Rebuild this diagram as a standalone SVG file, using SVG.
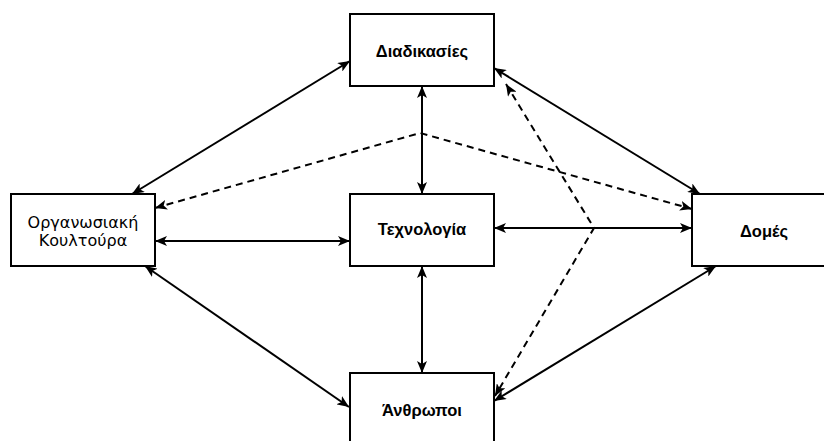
<svg xmlns="http://www.w3.org/2000/svg" width="824" height="441" viewBox="0 0 824 441">
<style>
.box{fill:#fff;stroke:#000;stroke-width:2}
.t{font-family:"Liberation Sans",Arial,sans-serif;font-size:16.5px;font-weight:bold;text-anchor:middle;fill:#000}
.r{font-family:"DejaVu Sans","Liberation Sans",sans-serif;font-size:16px;font-weight:normal}
.c{fill:none;stroke:#000;stroke-width:2}
.d{stroke-dasharray:7 5}
</style>
<defs>
<marker id="a" viewBox="0 0 12 10" refX="12" refY="5" markerWidth="12" markerHeight="10" markerUnits="userSpaceOnUse" orient="auto-start-reverse">
<path d="M0,0 L12,5 L0,10 L3,5 Z" fill="#000"/>
</marker>
</defs>
<rect width="824" height="441" fill="#fff"/>
<g id="connectors">
<line class="c" x1="132" y1="194" x2="350" y2="61" marker-start="url(#a)" marker-end="url(#a)"/>
<line class="c" x1="494" y1="68" x2="700" y2="194" marker-start="url(#a)" marker-end="url(#a)"/>
<line class="c" x1="422" y1="86" x2="422" y2="194" marker-start="url(#a)" marker-end="url(#a)"/>
<line class="c" x1="422" y1="266" x2="422" y2="373" marker-start="url(#a)" marker-end="url(#a)"/>
<line class="c" x1="155" y1="241" x2="350" y2="241" marker-start="url(#a)" marker-end="url(#a)"/>
<line class="c" x1="494" y1="228" x2="692" y2="228" marker-start="url(#a)" marker-end="url(#a)"/>
<line class="c" x1="145" y1="266" x2="349" y2="407" marker-start="url(#a)" marker-end="url(#a)"/>
<line class="c" x1="494" y1="401" x2="716" y2="266" marker-start="url(#a)" marker-end="url(#a)"/>
<polyline class="c d" points="155,208 420,133 692,209" marker-start="url(#a)" marker-end="url(#a)"/>
<polyline class="c d" points="506,84 594,228 495,396" marker-start="url(#a)" marker-end="url(#a)"/>
</g>
<g id="diadikasies">
<rect class="box" x="350" y="14" width="144" height="72"/>
<text class="t" x="422" y="57">Διαδικασίες</text>
</g>
<g id="organosiaki">
<rect class="box" x="11" y="194" width="144" height="72"/>
<text class="t r" x="83" y="228">Οργανωσιακή</text>
<text class="t r" x="83" y="246">Κουλτούρα</text>
</g>
<g id="technologia">
<rect class="box" x="350" y="194" width="144" height="72"/>
<text class="t" x="422" y="235">Τεχνολογία</text>
</g>
<g id="domes">
<rect class="box" x="692" y="194" width="144" height="72"/>
<text class="t" x="764" y="237">Δομές</text>
</g>
<g id="anthropoi">
<rect class="box" x="350" y="373" width="144" height="72"/>
<text class="t" x="422" y="416">Άνθρωποι</text>
</g>
</svg>
